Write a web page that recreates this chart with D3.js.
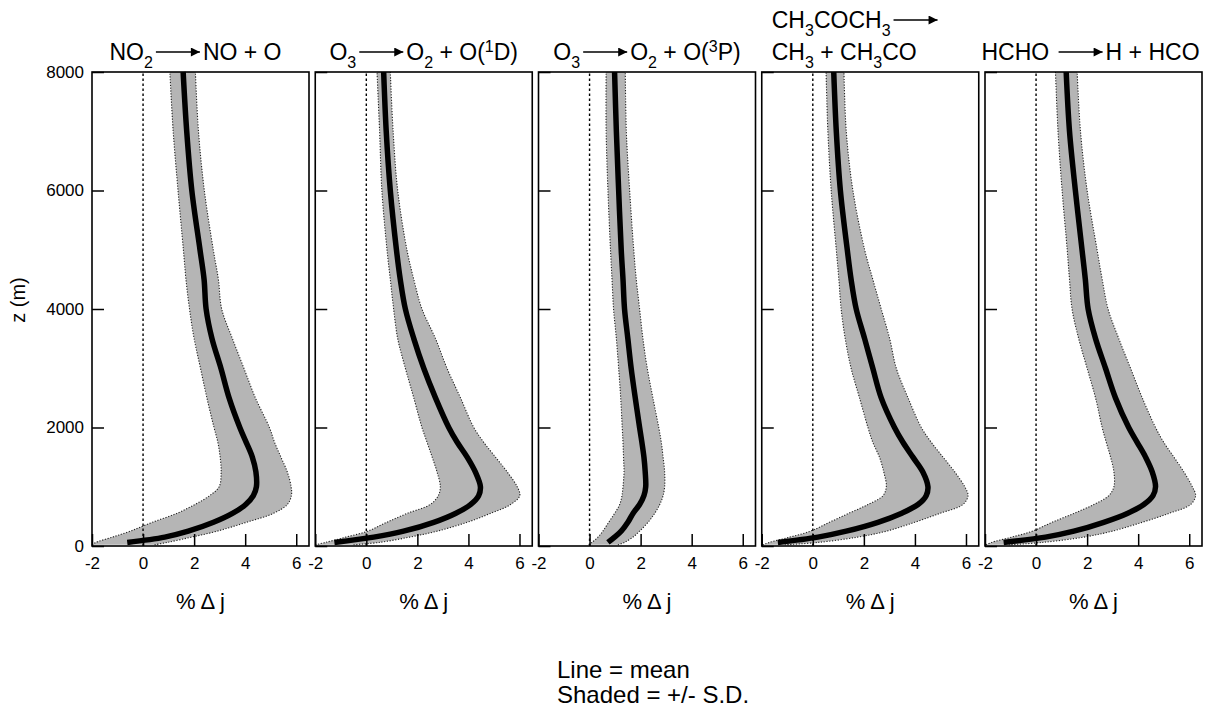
<!DOCTYPE html>
<html>
<head>
<meta charset="utf-8">
<script src="https://cdn.jsdelivr.net/npm/d3@7"></script>
<style>
  body { margin: 0; background: #fff; }
  svg { font-family: "Liberation Sans", Arial, sans-serif; }
  text { white-space: pre; }
</style>
</head>
<body>
<div id="chart"></div>
<script>
// altitude levels (m), bottom to top
const altitudes = [20, 60, 150, 250, 400, 550, 700, 850, 1000, 1250, 1500, 1750, 2000, 2500, 3000, 3500, 4000, 4500, 5000, 6000, 7000, 8000]

// % delta j : mean, mean - SD, mean + SD
const no2Mean  = [null, -0.62, 0.85, 1.77, 2.76, 3.5, 4.02, 4.32, 4.44, 4.42, 4.28, 4.04, 3.79, 3.37, 3.05, 2.70, 2.47, 2.39, 2.23, 1.91, 1.71, 1.57]
const no2Lower = [-2.0, -1.85, -1.2, -0.5, 0.36, 1.32, 2.03, 2.61, 2.98, 3.06, 3.02, 2.93, 2.78, 2.5, 2.25, 2.0, 1.82, 1.68, 1.58, 1.37, 1.18, 1.05]
const no2Upper = [0.45, 0.95, 1.9, 2.9, 4.05, 5.1, 5.65, 5.81, 5.8, 5.65, 5.4, 5.15, 4.95, 4.4, 3.95, 3.5, 3.08, 2.95, 2.75, 2.4, 2.17, 2.05]

const o1dMean  = [null, -1.25, 0.29, 1.46, 2.64, 3.49, 4.08, 4.4, 4.47, 4.27, 3.95, 3.56, 3.23, 2.71, 2.25, 1.86, 1.53, 1.33, 1.18, 0.94, 0.78, 0.68]
const o1dLower = [-2.0, -1.6, -0.8, 0.05, 0.8, 1.6, 2.5, 2.82, 2.90, 2.77, 2.58, 2.38, 2.18, 1.86, 1.53, 1.23, 1.07, 0.94, 0.81, 0.61, 0.52, 0.42]
const o1dUpper = [-0.5, 0.5, 1.7, 2.77, 3.95, 4.86, 5.65, 6.01, 5.91, 5.52, 5.06, 4.60, 4.21, 3.69, 3.16, 2.71, 2.18, 1.86, 1.59, 1.23, 1.05, 0.94]

const o3pMean  = [null, 0.72, 0.98, 1.24, 1.50, 1.70, 1.96, 2.13, 2.2, 2.18, 2.13, 2.05, 1.96, 1.79, 1.63, 1.50, 1.37, 1.31, 1.24, 1.14, 1.05, 0.98]
const o3pLower = [-0.03, 0.09, 0.33, 0.52, 0.75, 0.98, 1.18, 1.27, 1.31, 1.35, 1.33, 1.31, 1.28, 1.22, 1.14, 1.05, 0.94, 0.88, 0.82, 0.72, 0.65, 0.65]
const o3pUpper = [1.11, 1.37, 1.70, 1.96, 2.29, 2.55, 2.75, 2.88, 2.94, 2.94, 2.88, 2.81, 2.71, 2.48, 2.26, 2.09, 1.96, 1.83, 1.73, 1.57, 1.44, 1.40]

const acetMean  = [null, -1.37, 0.2, 1.31, 2.55, 3.46, 4.12, 4.44, 4.51, 4.31, 3.92, 3.53, 3.20, 2.68, 2.35, 2.03, 1.70, 1.50, 1.35, 1.08, 0.92, 0.82]
const acetLower = [-1.96, -1.7, -0.9, -0.1, 0.65, 1.4, 2.16, 2.75, 2.88, 2.78, 2.61, 2.35, 2.16, 1.83, 1.50, 1.27, 1.11, 1.02, 0.92, 0.72, 0.59, 0.52]
const acetUpper = [-1.1, 0.2, 1.76, 2.88, 3.99, 4.97, 5.88, 6.08, 5.95, 5.56, 5.10, 4.64, 4.25, 3.73, 3.27, 3.01, 2.68, 2.35, 2.03, 1.57, 1.31, 1.22]

const hchoMean  = [null, -1.27, 0.37, 1.48, 2.65, 3.57, 4.22, 4.58, 4.68, 4.55, 4.29, 3.96, 3.63, 3.11, 2.72, 2.33, 2.04, 1.93, 1.80, 1.54, 1.31, 1.18]
const hchoLower = [-1.96, -1.75, -0.95, -0.15, 0.63, 1.48, 2.26, 2.85, 3.05, 3.05, 2.92, 2.75, 2.59, 2.33, 2.0, 1.67, 1.41, 1.31, 1.22, 1.02, 0.86, 0.76]
const hchoUpper = [-1.07, 0.24, 1.87, 2.98, 4.16, 5.20, 6.05, 6.25, 6.12, 5.79, 5.40, 5.0, 4.68, 4.16, 3.70, 3.24, 2.82, 2.59, 2.39, 2.0, 1.74, 1.61]

const xTicks = [-2, 0, 2, 4, 6]
const zTicks = [0, 2000, 4000, 6000, 8000]

// title pieces: [text, shift]; "->" is the arrow
const titles = [
  [[["NO"], ["2", "sub"], ["->"], ["NO + O"]]],
  [[["O"], ["3", "sub"], ["->"], ["O"], ["2", "sub"], [" + O("], ["1", "sup"], ["D)"]]],
  [[["O"], ["3", "sub"], ["->"], ["O"], ["2", "sub"], [" + O("], ["3", "sup"], ["P)"]]],
  [[["CH"], ["3", "sub"], ["COCH"], ["3", "sub"], ["->"]],
   [["CH"], ["3", "sub"], [" + CH"], ["3", "sub"], ["CO"]]],
  [[["HCHO "], ["->"], ["H + HCO"]]]
]
// small nudge of each title from the panel centre
const titleShift = [-5, 0, 0, 0, -3]

const panels = [
  { mean: no2Mean, lower: no2Lower, upper: no2Upper },
  { mean: o1dMean, lower: o1dLower, upper: o1dUpper },
  { mean: o3pMean, lower: o3pLower, upper: o3pUpper },
  { mean: acetMean, lower: acetLower, upper: acetUpper },
  { mean: hchoMean, lower: hchoLower, upper: hchoUpper }
]

const width = 1207, height = 712
const plotTop = 72, plotBottom = 546
const pw = 217, step = 223.25, left0 = 92

const svg = d3.select("#chart").append("svg")
    .attr("width", width)
    .attr("height", height)

svg.append("defs").append("marker")
    .attr("id", "head")
    .attr("viewBox", "0 0 10 10")
    .attr("refX", 10).attr("refY", 5)
    .attr("markerUnits", "userSpaceOnUse")
    .attr("markerWidth", 16).attr("markerHeight", 9)
    .attr("orient", "auto")
  .append("path")
    .attr("d", "M0,0L10,5L0,10Z")
    .attr("fill", "#000")

const x = d3.scaleLinear().domain([-2, 6.5]).range([0, pw])
const y = d3.scaleLinear().domain([0, 8000]).range([plotBottom - plotTop, 0])

panels.forEach((p, i) => {
    const g = svg.append("g")
        .attr("transform", `translate(${left0 + i * step},${plotTop})`)

    const rows = altitudes.map((z, k) => ({ z, m: p.mean[k], lo: p.lower[k], hi: p.upper[k] }))
    const curve = d3.curveCatmullRom.alpha(0.5)

    // shaded +/- SD
    g.append("path")
        .datum(rows)
        .attr("fill", "#b5b5b5")
        .attr("d", d3.area().curve(curve)
            .y(d => y(d.z)).x0(d => x(d.lo)).x1(d => x(d.hi)))

    // dotted SD edges
    for (const key of ["lo", "hi"]) {
        g.append("path")
            .datum(rows)
            .attr("fill", "none")
            .attr("stroke", "#222")
            .attr("stroke-width", 1.1)
            .attr("stroke-dasharray", "1.2,1.6")
            .attr("d", d3.line().curve(curve).x(d => x(d[key])).y(d => y(d.z)))
    }

    // zero line
    g.append("line")
        .attr("x1", x(0)).attr("x2", x(0))
        .attr("y1", y(0)).attr("y2", y(8000))
        .attr("stroke", "#000")
        .attr("stroke-width", 1.4)
        .attr("stroke-dasharray", "2.5,2.5")

    // mean
    g.append("path")
        .datum(rows.filter(d => d.m != null))
        .attr("fill", "none")
        .attr("stroke", "#000")
        .attr("stroke-width", 5.5)
        .attr("d", d3.line().curve(curve).x(d => x(d.m)).y(d => y(d.z)))

    // axes
    g.append("g")
        .attr("transform", `translate(0,${y(0)})`)
        .call(d3.axisBottom(x).tickValues(xTicks).tickSizeInner(-12).tickSizeOuter(0).tickPadding(11)
            .tickFormat(d => String(d)))
        .call(a => a.select(".domain").remove())
        .call(a => a.selectAll("line").attr("stroke-width", 1.5))
        .call(a => a.selectAll("text").attr("font-size", 17).attr("font-family", null).attr("fill", "#000"))

    g.append("g")
        .call(d3.axisLeft(y).tickValues(zTicks).tickSizeInner(-12).tickSizeOuter(0).tickPadding(8)
            .tickFormat(i === 0 ? d => String(d) : () => ""))
        .call(a => a.select(".domain").remove())
        .call(a => a.selectAll("line").attr("stroke-width", 1.5))
        .call(a => a.selectAll("text").attr("font-size", 17).attr("font-family", null).attr("fill", "#000"))

    // frame
    g.append("rect")
        .attr("width", pw).attr("height", plotBottom - plotTop)
        .attr("fill", "none")
        .attr("stroke", "#000")
        .attr("stroke-width", 1.6)

    g.append("text")
        .attr("x", pw / 2).attr("y", 609 - plotTop)
        .attr("text-anchor", "middle")
        .attr("font-size", 22)
        .text("% Δ j")

    // title
    const lines = titles[i]
    lines.forEach((line, li) => {
        const baseY = lines.length > 1 ? (li === 0 ? 28 : 60) : 60
        const tg = svg.append("g")
        let cx = 0
        line.forEach(([t, shift]) => {
            if (t === "->") {
                cx += 3
                tg.append("line")
                    .attr("x1", cx).attr("x2", cx + 44)
                    .attr("y1", -8).attr("y2", -8)
                    .attr("stroke", "#000").attr("stroke-width", 1.6)
                    .attr("marker-end", "url(#head)")
                cx += 47
                return
            }
            const el = tg.append("text")
                .attr("x", cx)
                .attr("y", shift === "sub" ? 8 : shift === "sup" ? -8 : 0)
                .attr("font-size", shift ? 16 : 23)
                .text(t)
            cx += el.node().getComputedTextLength()
        })
        const px = left0 + i * step
        const tx = lines.length > 1 ? px + 10 : px + pw / 2 - cx / 2 + titleShift[i]
        tg.attr("transform", `translate(${tx},${baseY})`)
    })
})

svg.append("text")
    .attr("transform", "translate(25,300) rotate(-90)")
    .attr("text-anchor", "middle")
    .attr("font-size", 20)
    .text("z (m)")

svg.append("text").attr("x", 557).attr("y", 678).attr("font-size", 24).text("Line = mean")
svg.append("text").attr("x", 557).attr("y", 703).attr("font-size", 24).text("Shaded = +/- S.D.")
</script>
</body>
</html>
